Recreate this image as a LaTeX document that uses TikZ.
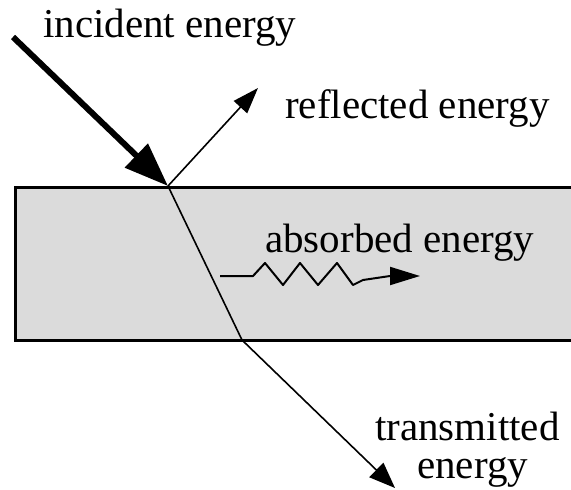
\documentclass[tikz,border=0pt]{standalone}
\usepackage{fontspec}
\setmainfont{Liberation Serif}
\usepackage{tikz}
\usetikzlibrary{calc}
\usetikzlibrary{arrows.meta}

\begin{document}
\begin{tikzpicture}[x=1pt,y=-1pt,
  lbl/.style={anchor=base west,inner sep=0pt,font=\fontsize{41}{44}\selectfont},
  ray/.style={line width=1.6pt}]
\useasboundingbox (0,0) rectangle (571,490);
\coordinate (in) at (13,37);
\coordinate (hit) at (168,186);
\coordinate (refl) at (258,88);
\coordinate (exit) at (242,340);
\coordinate (trans) at (395,488);
\coordinate (abs0) at (220,276);
\coordinate (abs1) at (420,276);

   % slab
   \fill[gray!28](15,187) -- (571,187) -- (571,340) -- (15,340);
   \draw[black,line width=3pt] (571,187) -- (15,187) -- (15,340) -- (571,340);
   %\draw[style=dashed, color=black] (571,187) -- (571,340);

   \draw[line width=6pt,-{Triangle[length=44pt,width=32pt]}] (in) -- (hit);
   \draw[ray,-{Triangle[length=26pt,width=18pt]}] (hit) -- (refl);
   \draw[ray] (hit) -- (exit);
   \draw[ray,-{Triangle[length=26pt,width=20pt]}] (exit) -- (trans);
   \draw[line width=2pt,line join=round,-{Triangle[length=30pt,width=18pt]}] (abs0) -- (253,276) -- (265,263) -- (283,285) -- (300,263) -- (318,285) -- (337,263) -- (353,285) -- (363,280) -- (390,276) -- (abs1);

   \node[lbl] (inc) at (43,37) {incident energy};
   \node[lbl] (ref) at (285,118) {reflected energy};
   \node[lbl] (abs) at (265,252) {absorbed energy};
   \node[lbl] (tra) at (375,440) {transmitted};
   \node[lbl] (tra2) at (417,478) {energy};
\end{tikzpicture}
\end{document}
